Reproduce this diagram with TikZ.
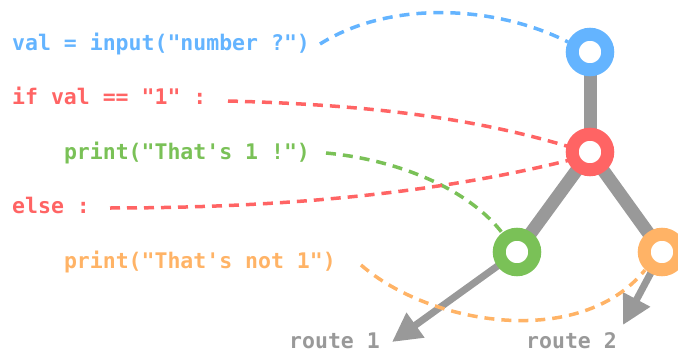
\documentclass[tikz,border=0pt]{standalone}
\usepackage{fontspec}
\setmonofont{DejaVu Sans Mono}
\usetikzlibrary{arrows.meta}
\definecolor{cblue}{HTML}{64B4FF}
\definecolor{cred}{HTML}{FF6464}
\definecolor{cgreen}{HTML}{7AC157}
\definecolor{corange}{HTML}{FFB366}
\definecolor{cgray}{HTML}{999999}
\tikzset{
  code/.style={anchor=base west, inner sep=0pt, font=\ttfamily\bfseries\fontsize{21.5}{25}\selectfont},
  ring/.style={circle, draw=#1, fill=white, line width=13pt, minimum size=35.5pt, inner sep=0pt},
  stem/.style={cgray, line width=13pt},
  route/.style={cgray, line width=7pt, -{Triangle[length=29pt, width=29pt]}},
  link/.style={#1, line width=3.5pt, dash pattern=on 10pt off 7pt},
}
\begin{document}
\begin{tikzpicture}[x=1pt, y=-1pt]
\useasboundingbox (0,0) rectangle (678,353);
% code lines
\node[code, text=cblue] (l1) at (12,50.5) {val = input("number ?")};
\node[code, text=cred] (l2) at (12,104.5) {if val == "1" :};
\node[code, text=cgreen] (l3) at (63.8,159) {print("That's 1 !")};
\node[code, text=cred] (l4) at (12,213.5) {else :};
\node[code, text=corange] (l5) at (63.8,268.5) {print("That's not 1")};
% route labels
\node[code, text=cgray] (r1) at (289,348.5) {route 1};
\node[code, text=cgray] (r2) at (526,348.5) {route 2};
% node centres
\coordinate (cb) at (590,52);
\coordinate (cr) at (590,152);
\coordinate (cg) at (517,252);
\coordinate (co) at (662,252);
\coordinate (t1) at (392,342);
\coordinate (t2) at (623,325);
% tree
\draw[stem] (cb) -- (cr);
\draw[stem] (cr) -- (cg);
\draw[stem] (cr) -- (co);
\draw[route] (cg) -- (t1);
\draw[route] (co) -- (t2);
% dashed links
\coordinate (s1) at (320,44);
\coordinate (e1) at (568,42);
\coordinate (s2) at (228,101);
\coordinate (e2) at (570,147);
\coordinate (s3) at (326,153);
\coordinate (e3) at (503,234);
\coordinate (s4) at (110,208);
\coordinate (e4) at (570,160);
\coordinate (s5) at (361,265);
\coordinate (e5) at (645,270);
\draw[link=cblue] (s1) .. controls (390,0) and (495,5) .. (e1);
\draw[link=cred] (s2) .. controls (380,105) and (480,120) .. (e2);
\draw[link=cgreen] (s3) .. controls (400,160) and (470,190) .. (e3);
\draw[link=cred] (s4) .. controls (300,208) and (450,190) .. (e4);
\draw[link=corange] (s5) .. controls (430,325) and (580,350) .. (e5);
% rings
\node[ring=cblue] (nb) at (cb) {};
\node[ring=cred] (nr) at (cr) {};
\node[ring=cgreen] (ng) at (cg) {};
\node[ring=corange] (no) at (co) {};
\end{tikzpicture}
\end{document}
